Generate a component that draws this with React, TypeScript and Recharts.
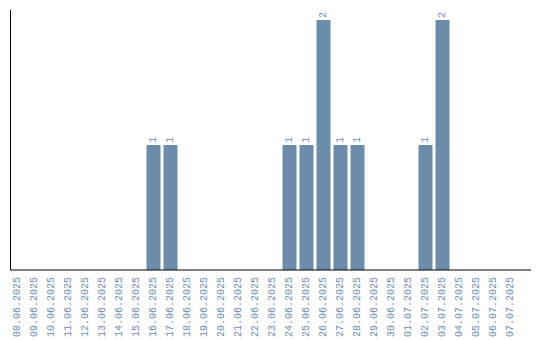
import React from 'react';
import { BarChart, Bar, XAxis, YAxis, LabelList } from 'recharts';

const DATES = [
  '08.06.2025', '09.06.2025', '10.06.2025', '11.06.2025', '12.06.2025',
  '13.06.2025', '14.06.2025', '15.06.2025', '16.06.2025', '17.06.2025',
  '18.06.2025', '19.06.2025', '20.06.2025', '21.06.2025', '22.06.2025',
  '23.06.2025', '24.06.2025', '25.06.2025', '26.06.2025', '27.06.2025',
  '28.06.2025', '29.06.2025', '30.06.2025', '01.07.2025', '02.07.2025',
  '03.07.2025', '04.07.2025', '05.07.2025', '06.07.2025', '07.07.2025',
];

const COUNTS = [
  0, 0, 0, 0, 0, 0, 0, 0, 1, 1,
  0, 0, 0, 0, 0, 0, 1, 1, 2, 1,
  1, 0, 0, 0, 1, 2, 0, 0, 0, 0,
];

const data = DATES.map((date, i) => ({ date, count: COUNTS[i] }));

const BAR_COLOR = '#6b8cab';
const TEXT_COLOR = '#6a8cb0';
const FONT = '"Liberation Mono", monospace';

const DateTick = (props: any) => {
  const { x, y, payload } = props;
  const ty = y - 1;
  return (
    <text
      x={x}
      y={ty}
      transform={`rotate(-90, ${x}, ${ty})`}
      textAnchor="end"
      dominantBaseline="central"
      fill={TEXT_COLOR}
      fontSize={10}
      fontFamily={FONT}
    >
      {payload.value}
    </text>
  );
};

const ValueLabel = (props: any) => {
  const { x, y, width, value } = props;
  if (!value) return null;
  const cx = x + width / 2;
  const ty = y - 2;
  return (
    <text
      x={cx}
      y={ty}
      transform={`rotate(-90, ${cx}, ${ty})`}
      textAnchor="start"
      dominantBaseline="central"
      fill={TEXT_COLOR}
      fontSize={10}
      fontFamily={FONT}
    >
      {value}
    </text>
  );
};

export default function App() {
  return (
    <div style={{ position: 'absolute', left: 0, top: 0, background: '#fff' }}>
      <BarChart
        width={540}
        height={340}
        data={data}
        margin={{ top: 10, right: 9, bottom: 0, left: 0 }}
        barCategoryGap={1.5}
      >
        <XAxis
          dataKey="date"
          interval={0}
          height={70}
          tickLine={false}
          tick={<DateTick />}
          axisLine={{ stroke: '#000' }}
          padding={{ left: -1.5, right: 12 }}
        />
        <YAxis
          width={10.5}
          domain={[0, 2.08]}
          tick={false}
          tickLine={false}
          axisLine={{ stroke: '#000' }}
        />
        <Bar dataKey="count" fill={BAR_COLOR} isAnimationActive={false}>
          <LabelList dataKey="count" content={<ValueLabel />} />
        </Bar>
      </BarChart>
    </div>
  );
}
